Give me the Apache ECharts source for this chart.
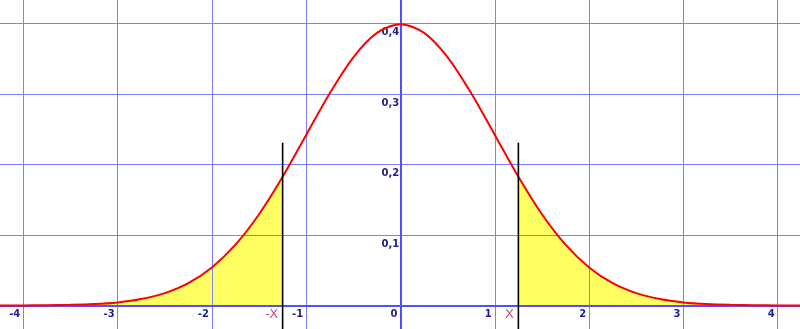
<!DOCTYPE html>
<html>
<head>
<meta charset="utf-8">
<script src="https://cdn.jsdelivr.net/npm/echarts@6/dist/echarts.min.js"></script>
<style>html,body{margin:0;padding:0;background:#fff;overflow:hidden;width:800px;height:329px;position:relative}
#c{position:absolute;left:-71.25px;top:-47.5px;width:942.5px;height:423px}</style>
</head>
<body>
<div id="c"></div>
<script>
// Curve samples
var xValues = [-4.25,-4,-3.75,-3.5,-3.25,-3,-2.75,-2.5,-2.25,-2,-1.75,-1.5,-1.25,-1,-0.75,-0.5,-0.25,0,
               0.25,0.5,0.75,1,1.25,1.5,1.75,2,2.25,2.5,2.75,3,3.25,3.5,3.75,4,4.25];
var yValues = [0.0001,0.0001,0.0004,0.0009,0.0020,0.0044,0.0091,0.0175,0.0317,0.0540,0.0863,0.1295,0.1826,0.2420,0.3011,0.3521,0.3867,0.3989,
               0.3867,0.3521,0.3011,0.2420,0.1826,0.1295,0.0863,0.0540,0.0317,0.0175,0.0091,0.0044,0.0020,0.0009,0.0004,0.0001,0.0001];
// Cut-off positions (-x, x) and the height of the marker lines
var cutValues = [-1.25, 1.25];
var cutLabels = ['-X', 'X'];
var cutLineTop = 0.231;
var cutLineBottom = -0.1;

var curve = xValues.map(function(x, i){ return [x, yValues[i]]; });
var leftTail = curve.filter(function(p){ return p[0] <= cutValues[0]; });
var rightTail = curve.filter(function(p){ return p[0] >= cutValues[1]; });

var labelColor = '#1c1c9c';
var font = 'DejaVu Sans';

var chart = echarts.init(document.getElementById('c'), null, {renderer: 'canvas'});
var series = [
  {type:'line', data:leftTail, smooth:0.3, symbol:'none', z:1, lineStyle:{width:0}, areaStyle:{color:'rgba(255,255,0,0.62)', opacity:1}, silent:true},
  {type:'line', data:rightTail, smooth:0.3, symbol:'none', z:1, lineStyle:{width:0}, areaStyle:{color:'rgba(255,255,0,0.62)', opacity:1}, silent:true},
  {type:'line', data:curve, smooth:0.3, symbol:'none', z:5, lineStyle:{color:'#ff0000', width:2}}
];
cutValues.forEach(function(c, i){
  series.push({type:'line', data:[[c, cutLineBottom],[c, cutLineTop]], symbol:'none', z:5, lineStyle:{color:'#000', width:1.6}});
  series.push({type:'scatter', data:[[c, 0]], symbolSize:1, itemStyle:{color:'rgba(0,0,0,0)'}, z:6,
    label:{show:true, formatter:cutLabels[i], position:[-4, 3], align:'right', verticalAlign:'top',
      color:'#c0286c', fontFamily:font, fontSize:13}});
});

chart.setOption({
  animation:false,
  grid:{left:0, right:0, top:0, bottom:0, containLabel:false, outerBoundsMode:'none'},
  xAxis:{type:'value', min:-5, max:5, interval:1, z:3, position:'bottom', offset:-70.5,
    axisLine:{onZero:false, lineStyle:{color:'#5050ff', width:2}},
    axisTick:{show:false},
    splitLine:{show:true, lineStyle:{color:'#8080ff', width:1}},
    axisLabel:{margin:4, align:'right', padding:[0,3,0,0], color:labelColor, fontFamily:font, fontWeight:'bold', fontSize:10,
      formatter:function(v){ return (v < -4.5 || v > 4.5) ? '' : String(v); }}
  },
  yAxis:{type:'value', min:-0.1, max:0.5, interval:0.1, z:3, position:'left', offset:-471.25,
    axisLine:{onZero:false, lineStyle:{color:'#5050ff', width:2}},
    axisTick:{show:false},
    splitLine:{show:true, lineStyle:{color:'#8080ff', width:1}},
    axisLabel:{margin:1, verticalAlign:'top', padding:[4,0,0,0], color:labelColor, fontFamily:font, fontWeight:'bold', fontSize:10,
      formatter:function(v){ return (v <= 0.001 || v > 0.45) ? '' : v.toFixed(1).replace('.', ','); }}
  },
  series:series
});
</script>
</body>
</html>
